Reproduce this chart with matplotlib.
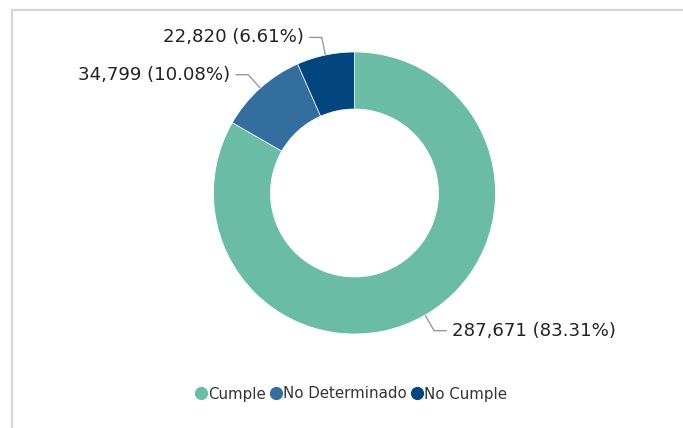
import matplotlib

matplotlib.use("Agg")
import matplotlib.pyplot as plt
import numpy as np
from matplotlib.lines import Line2D

# data
categories = ["Cumple", "No Determinado", "No Cumple"]
values = [287671, 34799, 22820]
percents = [83.31, 10.08, 6.61]
colors = ["#6ABDA4", "#346E9E", "#03467F"]

W, H = 683, 428
CX, CY = 354.5, H - 193
R_OUT, R_IN = 141, 84

plt.rcParams["font.family"] = ["DejaVu Sans"]

fig = plt.figure(figsize=(W / 100, H / 100), dpi=100)
fig.patch.set_facecolor("white")
ax = fig.add_axes([0, 0, 1, 1])

wedges, _ = ax.pie(
    values,
    colors=colors,
    startangle=90,
    counterclock=False,
    radius=R_OUT,
    center=(CX, CY),
    wedgeprops=dict(width=R_OUT - R_IN, edgecolor="white", linewidth=0.5),
)
ax.set_xlim(0, W)
ax.set_ylim(0, H)
ax.set_aspect("equal")
ax.axis("off")

# leader lines and labels
for w, v, p in zip(wedges, values, percents):
    ang = np.deg2rad((w.theta1 + w.theta2) / 2)
    dx, dy = np.cos(ang), np.sin(ang)
    x0, y0 = CX + (R_OUT + 1) * dx, CY + (R_OUT + 1) * dy
    x1, y1 = CX + (R_OUT + 18) * dx, CY + (R_OUT + 18) * dy
    side = 1 if dx >= 0 else -1
    x2 = x1 + side * 12
    ax.plot([x0, x1, x2], [y0, y1, y1], color="#9a9a9a", lw=1.0,
            solid_joinstyle="miter")
    ax.text(x2 + side * 6, y1, f"{v:,} ({p:.2f}%)",
            ha="left" if side > 0 else "right", va="center",
            fontsize=13.1, color="#222222")

# card border (top and left edges only)
fig.add_artist(Line2D([12 / W, 1], [1 - 10 / H, 1 - 10 / H],
                      color="#d6d6d6", lw=1.6, transform=fig.transFigure))
fig.add_artist(Line2D([12 / W, 12 / W], [0, 1 - 10 / H],
                      color="#d6d6d6", lw=1.6, transform=fig.transFigure))

handles = [
    Line2D([], [], marker="o", ls="none", markersize=8.5,
           markerfacecolor=c, markeredgecolor=c, label=n)
    for n, c in zip(categories, colors)
]
fig.legend(
    handles=handles,
    loc="center",
    bbox_to_anchor=(352 / W, 34 / H),
    ncol=3,
    frameon=False,
    fontsize=10.8,
    handlelength=0.6,
    handletextpad=0.15,
    columnspacing=0.4,
    labelcolor="#333333",
)

fig.savefig("out.png", dpi=100, facecolor="white")
